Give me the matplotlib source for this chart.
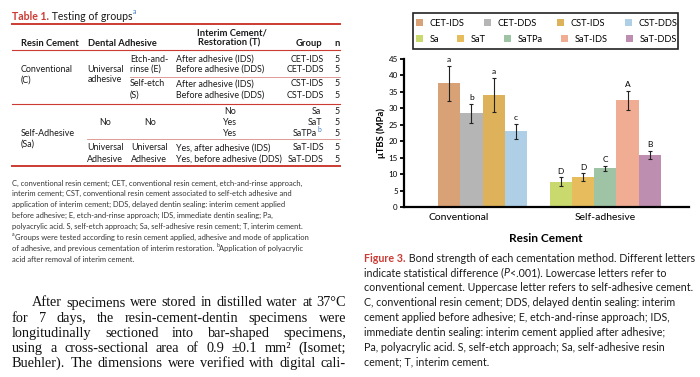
import matplotlib
matplotlib.use('Agg')
import matplotlib.pyplot as plt
from matplotlib.lines import Line2D
from matplotlib.patches import Rectangle, Patch

plt.rcParams['font.family'] = ['Lato', 'DejaVu Sans']

# Figure 3 data: bond strength (MPa) per group
groups = ['CET-IDS', 'CET-DDS', 'CST-IDS', 'CST-DDS', 'Sa', 'SaT', 'SaTPa', 'SaT-IDS', 'SaT-DDS']
means = [37.6, 28.5, 34.1, 23.0, 7.7, 9.0, 11.8, 32.5, 15.9]
errors = [5.3, 2.9, 5.1, 2.2, 1.3, 1.2, 0.75, 2.9, 1.2]
letters = ['a', 'b', 'a', 'c', 'D', 'D', 'C', 'A', 'B']
colors = ['#D9A276', '#B5B5B5', '#DDB25A', '#AFCFE6', '#CAD96E',
          '#E6BC5C', '#9FC3A5', '#F0AD93', '#BE8EB0']
cement_types = ['Conventional', 'Self-adhesive']
group_sizes = [4, 5]
cement_label_x = [0.45, 7.0]

RED = '#CC3B33'
BLUE = '#3E7CC0'
INK = '#1a1a1a'
W, H = 700, 377

fig = plt.figure(figsize=(7, 3.77), dpi=100)
renderer = fig.canvas.get_renderer()


def fx(x):
    return x / W


def fy(y):
    return 1 - y / H


def put(x, y, s, ha='left', va='center', **kw):
    kw.setdefault('color', INK)
    return fig.text(fx(x), fy(y), s, ha=ha, va=va, **kw)


def width_px(s, **kw):
    t = fig.text(0, 0, s, **kw)
    w = t.get_window_extent(renderer).width
    t.remove()
    return w


def advance(s, **kw):
    return width_px('|' + s + '|', **kw) - width_px('||', **kw)


def fit(s, target, **kw):
    # font size that makes string s about target pixels wide
    return 10 * target / advance(s, fontsize=10, **kw)


def runs(x, y, parts):
    for s, kw in parts:
        kw = dict(kw)
        dy = kw.pop('dy', 0)
        put(x, y + dy, s, **kw)
        kw.pop('color', None)
        x += advance(s, **kw)


def justify(x0, x1, y, line, **kw):
    words = line.split()
    ws = [advance(w, **kw) for w in words]
    gap = (x1 - x0 - sum(ws)) / (len(words) - 1)
    x = x0
    for w, wd in zip(words, ws):
        put(x, y, w, va='baseline', **kw)
        x += wd + gap


def hline(y, x0, x1, lw, color=RED):
    fig.add_artist(Line2D([fx(x0), fx(x1)], [fy(y), fy(y)], lw=lw, color=color,
                          transform=fig.transFigure))


# ---------------- Table 1 ----------------
ts = fit('Before adhesive (DDS)', 89)
hs = fit('Resin Cement', 58, fontweight='bold')
hb = dict(fontsize=hs, fontweight='bold')
tb = dict(fontsize=ts)
ttl = fit('Testing of groups', 133 - 52)
runs(12, 16, [('Table 1.', dict(fontsize=ttl, fontweight='bold', color=RED)),
              (' Testing of groups', dict(fontsize=ttl)),
              ('a', dict(fontsize=5, color=BLUE, dy=-4))])
hline(24, 12, 340, 1.4)
hline(50, 12, 340, 0.8)
hline(77, 130, 340, 0.6, '#D98C86')
hline(104, 12, 340, 0.8)
hline(139, 87, 340, 0.6, '#D98C86')
hline(166, 12, 340, 1.4)

put(21, 43, 'Resin Cement', **hb)
put(88, 43, 'Dental Adhesive', **hb)
put(232, 33, 'Interim Cement/', ha='center', **hb)
put(229, 43, 'Restoration (T)', ha='center', **hb)
put(309, 43, 'Group', ha='center', **hb)
put(337, 43, 'n', ha='center', **hb)

put(21, 69, 'Conventional', **tb)
put(21, 80, '(C)', **tb)
put(105, 69, 'Universal', ha='center', **tb)
put(105, 80, 'adhesive', ha='center', **tb)
put(130, 59, 'Etch-and-', **tb)
put(130, 69, 'rinse (E)', **tb)
put(130, 84, 'Self-etch', **tb)
put(130, 95, '(S)', **tb)

rows = [(59, 'After adhesive (IDS)', 'CET-IDS'),
        (69, 'Before adhesive (DDS)', 'CET-DDS'),
        (84, 'After adhesive (IDS)', 'CST-IDS'),
        (95, 'Before adhesive (DDS)', 'CST-DDS')]
for y, t, g in rows:
    put(176, y, t, **tb)
    put(324, y, g, ha='right', **tb)
    put(337, y, '5', ha='center', **tb)

put(21, 133, 'Self-Adhesive', **tb)
put(21, 144, '(Sa)', **tb)
put(105, 122, 'No', ha='center', **tb)
put(150, 122, 'No', ha='center', **tb)
for y, t in [(112, 'No'), (122, 'Yes'), (133, 'Yes')]:
    put(230, y, t, ha='center', **tb)
    put(337, y, '5', ha='center', **tb)
put(321, 112, 'Sa', ha='right', **tb)
put(322, 122, 'SaT', ha='right', **tb)
put(317, 133, 'SaTPa', ha='right', **tb)
put(318, 130, 'b', fontsize=4.8, color=BLUE)

for y, t, g, a in [(148, 'Yes, after adhesive (IDS)', 'SaT-IDS', 'Universal'),
                   (159, 'Yes, before adhesive (DDS)', 'SaT-DDS', 'Adhesive')]:
    put(87, y, a, **tb)
    put(131, y, a, **tb)
    put(176, y, t, **tb)
    put(324, y, g, ha='right', **tb)
    put(337, y, '5', ha='center', **tb)

foot_lines = [
    'C, conventional resin cement; CET, conventional resin cement, etch-and-rinse approach,',
    'interim cement; CST, conventional resin cement associated to self-etch adhesive and',
    'application of interim cement; DDS, delayed dentin sealing: interim cement applied',
    'before adhesive; E, etch-and-rinse approach; IDS, immediate dentin sealing; Pa,',
    'polyacrylic acid. S, self-etch approach; Sa, self-adhesive resin cement; T, interim cement.',
]
fn = dict(fontsize=fit(foot_lines[0], 290), color='#333333')
sup = dict(fontsize=fn['fontsize'] * 0.7, color='#333333', dy=-2.5)
foot = [[(s, fn)] for s in foot_lines] + [
    [('a', sup), ('Groups were tested according to resin cement applied, adhesive and mode of application', fn)],
    [('of adhesive, and previous cementation of interim restoration. ', fn), ('b', sup),
     ('Application of polyacrylic', fn)],
    [('acid after removal of interim cement.', fn)],
]
for i, parts in enumerate(foot):
    runs(12, 183 + 10.9 * i, parts)

# body paragraph (justified)
para = ['After specimens were stored in distilled water at 37°C',
        'for 7 days, the resin-cement-dentin specimens were',
        'longitudinally sectioned into bar-shaped specimens,',
        'using a cross-sectional area of 0.9 ±0.1 mm² (Isomet;',
        'Buehler). The dimensions were verified with digital cali-']
serif = dict(family='Liberation Serif', color='#111111')
serif['fontsize'] = fit(para[-1], 326, **serif)
for i, line in enumerate(para):
    justify(32 if i == 0 else 12, 346, 306.5 + 15.1 * i, line, **serif)

# ---------------- Figure 3 chart ----------------
ax = fig.add_axes([fx(404), fy(207), (689 - 404) / W, (207 - 59) / H])
x_pos = []
start = 0
for n in group_sizes:
    x_pos.extend(range(start, start + n))
    start += n + 1

ax.bar(x_pos, means, width=1.0, color=colors, edgecolor='none', zorder=2)
ax.errorbar(x_pos, means, yerr=errors, fmt='none', ecolor='#222222',
            elinewidth=0.8, capsize=1.3, capthick=0.8, zorder=3)
for xp, m, e, lt in zip(x_pos, means, errors, letters):
    ax.annotate(lt, (xp, m + e), xytext=(0, 2), textcoords='offset points',
                ha='center', va='bottom', fontsize=6.0)

ax.set_ylim(0, 45)
ax.set_yticks(range(0, 46, 5))
ax.set_xlim(x_pos[0] - 2.02, x_pos[-1] + 1.75)
ax.set_xticks(cement_label_x)
ax.set_xticklabels(cement_types, fontsize=fit('Conventional', 61))
ax.tick_params(axis='x', length=0, pad=4)
ax.tick_params(axis='y', length=3, width=1.3, labelsize=fit('45', 9.3), pad=1.5)
for s in ['top', 'right']:
    ax.spines[s].set_visible(False)
for s in ['left', 'bottom']:
    ax.spines[s].set_linewidth(1.6)
ax.set_ylabel('μTBS (MPa)', fontsize=fit('μTBS (MPa)', 50, fontweight='bold'),
              fontweight='bold', labelpad=2)
fig.text(fx(546), fy(238), 'Resin Cement', ha='center', va='center',
         fontsize=fit('Resin Cement', 74, fontweight='bold'), fontweight='bold')

# legend: two rows inside a frame
handles = [Patch(facecolor=c, edgecolor='none', label=g) for g, c in zip(groups, colors)]
ls = fit('CET-IDS', 35)
for row, yc in [(handles[:4], 23), (handles[4:], 39)]:
    fig.legend(handles=row, ncol=len(row), loc='center', mode='expand',
               bbox_to_anchor=(fx(416), fy(yc + 5), (677 - 416) / W, 10 / H),
               frameon=False, fontsize=ls, handlelength=0.75, handleheight=0.75,
               handletextpad=0.7, borderpad=0, borderaxespad=0, columnspacing=1.0)
fig.add_artist(Rectangle((fx(413), fy(48.5)), (678 - 413) / W, (48.5 - 12.5) / H,
                         transform=fig.transFigure, fill=False, lw=1.2, ec='#222222'))

# caption
cap_lines = [' Bond strength of each cementation method. Different letters',
             'conventional cement. Uppercase letter refers to self-adhesive cement.',
             'C, conventional resin cement; DDS, delayed dentin sealing: interim',
             'cement applied before adhesive; E, etch-and-rinse approach; IDS,',
             'immediate dentin sealing: interim cement applied after adhesive;',
             'Pa, polyacrylic acid. S, self-etch approach; Sa, self-adhesive resin',
             'cement; T, interim cement.']
csz = fit(cap_lines[1], 695 - 364 - 3)
cs = dict(fontsize=csz)
cap = [
    [('Figure 3.', dict(fontsize=csz, fontweight='bold', color=RED)), (cap_lines[0], cs)],
    [('indicate statistical difference (', cs), ('P', dict(fontsize=csz, fontstyle='italic')),
     ('<.001). Lowercase letters refer to', cs)],
] + [[(s, cs)] for s in cap_lines[1:]]
for i, parts in enumerate(cap):
    runs(364, 258 + 14.9 * i, parts)

fig.savefig('out.png', dpi=100)
